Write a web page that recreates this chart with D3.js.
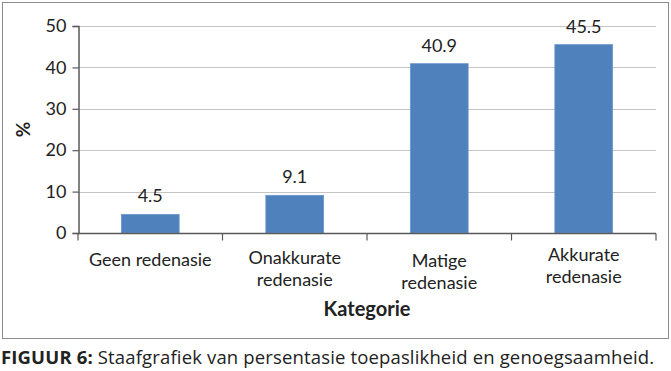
<!DOCTYPE html>
<html>
<head>
<meta charset="utf-8">
<script src="https://cdn.jsdelivr.net/npm/d3@7"></script>
<style>
body { margin: 0; background: #fff; }
svg { display: block; font-family: Lato, "Open Sans", sans-serif; }
</style>
</head>
<body>
<div id="chart"></div>
<script>
var categories = [["Geen redenasie"], ["Onakkurate", "redenasie"], ["Matige", "redenasie"], ["Akkurate", "redenasie"]];
var values = [4.5, 9.1, 40.9, 45.5];
var yTicks = [0, 10, 20, 30, 40, 50];
// excel staggers the labels a little
var labelOffsets = [-1, -3, 0, -6];

var width = 671, height = 371;
var margin = {left: 78, right: 15, top: 26, bottom: 138};

var svg = d3.select('#chart')
    .append('svg')
    .attr('width', width)
    .attr('height', height);

// outer frame
svg.append('rect')
    .attr('x', 2.5).attr('y', 2.5)
    .attr('width', 666).attr('height', 336)
    .attr('fill', 'none')
    .attr('stroke', '#8c8c8c')
    .attr('stroke-width', 1);

var x = d3.scaleBand()
    .domain(d3.range(values.length))
    .range([margin.left, width - margin.right])
    .paddingInner(0.6)
    .paddingOuter(0.3);

var x0 = d3.scaleBand()
    .domain(d3.range(values.length))
    .range([margin.left, width - margin.right]);

var y = d3.scaleLinear()
    .domain([0, 50])
    .range([233, margin.top]);

// gridlines
svg.append('g')
    .selectAll('line')
    .data(yTicks.slice(1))
    .enter()
    .append('line')
    .attr('x1', margin.left)
    .attr('x2', width - margin.right)
    .attr('y1', function (d) { return Math.round(y(d)) + 0.5; })
    .attr('y2', function (d) { return Math.round(y(d)) + 0.5; })
    .attr('stroke', '#c4c4c4')
    .attr('stroke-width', 1.2);

// bars
svg.append('g')
    .selectAll('rect')
    .data(values)
    .enter()
    .append('rect')
    .attr('x', function (d, i) { return x(i); })
    .attr('y', function (d) { return y(d); })
    .attr('width', x.bandwidth())
    .attr('height', function (d) { return y(0) - y(d); })
    .attr('fill', '#4f81bd')
    .attr('stroke', '#6d97cb')
    .attr('stroke-width', 0.8);

// value labels
svg.append('g')
    .selectAll('text')
    .data(values)
    .enter()
    .append('text')
    .attr('x', function (d, i) { return x(i) + x.bandwidth() / 2; })
    .attr('y', function (d) { return y(d) - 12; })
    .attr('text-anchor', 'middle')
    .attr('font-size', 18)
    .attr('fill', '#222')
    .text(function (d) { return d.toFixed(1); });

// y axis
var yAxis = svg.append('g')
    .attr('transform', 'translate(' + (margin.left + 0.5) + ',0)')
    .call(d3.axisLeft(y).tickValues(yTicks).tickSize(6).tickPadding(6));
yAxis.select('.domain').attr('stroke', '#595959').attr('stroke-width', 1.5);
yAxis.selectAll('.tick line').attr('stroke', '#595959').attr('stroke-width', 1.2);
yAxis.selectAll('.tick text')
    .attr('font-size', 18)
    .attr('font-family', 'Lato, sans-serif')
    .attr('fill', '#222');

// x axis
var xAxis = svg.append('g')
    .attr('transform', 'translate(0,' + (y(0) + 0.5) + ')');
xAxis.append('line')
    .attr('x1', margin.left)
    .attr('x2', width - margin.right)
    .attr('stroke', '#595959')
    .attr('stroke-width', 1.5);
xAxis.selectAll('line.tick')
    .data(d3.range(values.length + 1))
    .enter()
    .append('line')
    .attr('class', 'tick')
    .attr('x1', function (d) { return d < values.length ? x0(d) : x0(d - 1) + x0.bandwidth(); })
    .attr('x2', function (d) { return d < values.length ? x0(d) : x0(d - 1) + x0.bandwidth(); })
    .attr('y1', 0)
    .attr('y2', 7)
    .attr('stroke', '#595959')
    .attr('stroke-width', 1.2);

var catLabels = svg.append('g')
    .selectAll('text')
    .data(categories)
    .enter()
    .append('text')
    .attr('text-anchor', 'middle')
    .attr('font-size', 18)
    .attr('fill', '#222')
    .attr('transform', function (d, i) {
        return 'translate(' + (x0(i) + x0.bandwidth() / 2) + ',' + (y(0) + 34 + labelOffsets[i]) + ')';
    });
catLabels.selectAll('tspan')
    .data(function (d) { return d; })
    .enter()
    .append('tspan')
    .attr('x', 0)
    .attr('dy', function (d, i) { return i == 0 ? 0 : 22; })
    .text(function (d) { return d; });

// axis titles
svg.append('text')
    .attr('x', (margin.left + width - margin.right) / 2)
    .attr('y', 316)
    .attr('text-anchor', 'middle')
    .attr('font-size', 20)
    .attr('font-weight', 'bold')
    .attr('fill', '#222')
    .text('Kategorie');

svg.append('text')
    .attr('transform', 'translate(30,' + y(25) + ') rotate(-90)')
    .attr('text-anchor', 'middle')
    .attr('font-size', 19)
    .attr('font-weight', 'bold')
    .attr('fill', '#222')
    .text('%');

// caption
var cap = svg.append('text')
    .attr('x', 1)
    .attr('y', 364)
    .attr('font-family', '"Open Sans", sans-serif')
    .attr('font-size', 18.5)
    .attr('letter-spacing', 0.15)
    .attr('fill', '#222');
cap.append('tspan').attr('font-weight', 'bold').text('FIGUUR 6:');
cap.append('tspan').text(' Staafgrafiek van persentasie toepaslikheid en genoegsaamheid.');
</script>
</body>
</html>
